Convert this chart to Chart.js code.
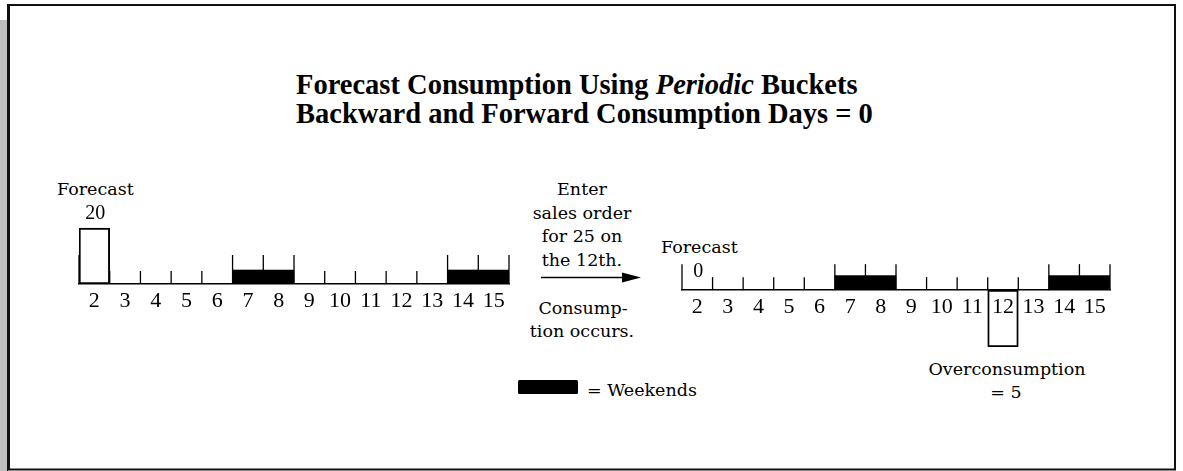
<!DOCTYPE html>
<html><head><meta charset="utf-8">
<script src="https://cdn.jsdelivr.net/npm/chart.js@4.4.1/dist/chart.umd.min.js"></script>
<style>
html,body{margin:0;padding:0;background:#fff;}
#wrap{position:relative;width:1183px;height:471px;overflow:hidden;background:#fff;}
#deco{position:absolute;left:0;top:0;}
canvas{position:absolute;}
.t{font-family:"DejaVu Serif";font-size:17.5px;fill:#000;}
.title{font-family:"Liberation Serif";font-weight:bold;font-size:28.5px;fill:#000;}
</style></head><body>
<div id="wrap">
<svg id="deco" width="1183" height="471" xmlns="http://www.w3.org/2000/svg">
  <rect x="0" y="20" width="8" height="451" fill="#bfbfbf"/>
  <rect x="9" y="5" width="1166" height="464.5" fill="#fff" stroke="#111" stroke-width="2"/>
  <line x1="7.5" y1="4" x2="7.5" y2="471" stroke="#111" stroke-width="1"/>
  <text class="title" x="296" y="94">Forecast Consumption Using <tspan font-style="italic">Periodic</tspan> Buckets</text>
  <text class="title" x="296" y="123">Backward and Forward Consumption Days = 0</text>
  <text class="t" x="57" y="195">Forecast</text>
  <text class="t" x="582" y="195" text-anchor="middle">Enter</text>
  <text class="t" x="582" y="218.5" text-anchor="middle">sales order</text>
  <text class="t" x="582" y="242" text-anchor="middle">for 25 on</text>
  <text class="t" x="582" y="266" text-anchor="middle">the 12th.</text>
  <line x1="541" y1="277.5" x2="625" y2="277.5" stroke="#000" stroke-width="1.5"/>
  <polygon points="622,272.5 641,277.5 622,282.5" fill="#000"/>
  <text class="t" x="583" y="314" text-anchor="middle">Consump-</text>
  <text class="t" x="582" y="337" text-anchor="middle">tion occurs.</text>
  <text class="t" x="661" y="253">Forecast</text>
  <text class="t" x="1007" y="375" text-anchor="middle">Overconsumption</text>
  <text class="t" x="1006" y="398" text-anchor="middle">= 5</text>
  <rect x="518" y="380" width="60" height="14" rx="1.5" fill="#000"/>
  <text class="t" x="587" y="396">= Weekends</text>
</svg>
<canvas id="leftChart" width="450" height="140" style="left:69px;top:184px"></canvas>
<canvas id="rightChart" width="448" height="107" style="left:672px;top:250px"></canvas>
</div>
<script>
// ---- data ----
const days = ['2','3','4','5','6','7','8','9','10','11','12','13','14','15'];
const weekendDays = ['7','8','14','15'];
// forecast before the sales order (periodic bucket on the 2nd)
const forecastBefore = [20, null, null, null, null, null, null, null, null, null, null, null, null, null];
// forecast after consumption
const forecastAfter = [0, null, null, null, null, null, null, null, null, null, null, null, null, null];
// overconsumption on the 12th (sales order 25 - forecast 20)
const overconsumption = [null, null, null, null, null, null, null, null, null, null, -5, null, null, null];
const WEEKEND_MARK = 1;
const weekendBand = days.map(d => weekendDays.includes(d) ? WEEKEND_MARK : null);

// ---- plugins ----
const dayTicks = {
  id: 'dayTicks',
  afterDatasetsDraw(chart, args, opts) {
    const x = chart.scales.x, y = chart.scales.y;
    const base = y.getPixelForValue(0);
    const ctx = chart.ctx;
    ctx.save();
    ctx.strokeStyle = '#000';
    ctx.lineWidth = 1.3;
    for (let b = 0; b <= days.length; b++) {
      const px = x.getPixelForValue(b - 0.5);
      const leftW = b > 0 && weekendDays.includes(days[b - 1]);
      const rightW = b < days.length && weekendDays.includes(days[b]);
      const big = b === 0 || leftW || rightW;
      const h = big ? opts.big : opts.small;
      ctx.beginPath();
      ctx.moveTo(px, base);
      ctx.lineTo(px, base - h);
      ctx.stroke();
    }
    ctx.restore();
  }
};
const valueLabels = {
  id: 'valueLabels',
  afterDatasetsDraw(chart) {
    const ctx = chart.ctx;
    ctx.save();
    ctx.fillStyle = '#000';
    ctx.font = '20px "Liberation Serif"';
    ctx.textAlign = 'center';
    ctx.textBaseline = 'alphabetic';
    chart.data.datasets.forEach((ds, i) => {
      if (!ds.valueLabel) return;
      const meta = chart.getDatasetMeta(i);
      meta.data.forEach((bar, j) => {
        const v = ds.data[j];
        if (v === null || v === undefined) return;
        ctx.fillText(String(v), bar.x + 1, Math.min(bar.y, bar.base) - ds.labelGap);
      });
    });
    ctx.restore();
  }
};

function xScale(pad) {
  return {
    type: 'category', labels: days, offset: true, position: { y: 0 },
    grid: { display: false, drawTicks: false },
    border: { display: true, color: '#000', width: 1.5 },
    ticks: { color: '#000', font: { family: 'Liberation Serif', size: 22 }, padding: pad, autoSkip: false, maxRotation: 0 }
  };
}
const common = {
  responsive: false, animation: false, devicePixelRatio: 1,
  datasets: { bar: { grouped: false, barPercentage: 1, categoryPercentage: 1 } },
  plugins: { legend: { display: false }, tooltip: { enabled: false } }
};

new Chart(document.getElementById('leftChart'), {
  type: 'bar',
  data: {
    labels: days,
    datasets: [
      { label: 'Weekends', data: weekendBand, yAxisID: 'yw', backgroundColor: '#000', borderWidth: 0 },
      { label: 'Forecast', data: forecastBefore, yAxisID: 'y', backgroundColor: 'rgba(255,255,255,0)', borderColor: '#000', borderWidth: 1.3, borderSkipped: false, valueLabel: true, labelGap: 9 }
    ]
  },
  options: Object.assign({}, common, {
    layout: { padding: { left: 10, right: 10, top: 16, bottom: 40 } },
    scales: {
      x: xScale(4.5),
      y: { display: false, min: 0, max: 30 },
      yw: { display: false, min: 0, max: 6 }
    },
    plugins: Object.assign({}, common.plugins, { dayTicks: { small: 13, big: 29 } })
  }),
  plugins: [dayTicks, valueLabels]
});

new Chart(document.getElementById('rightChart'), {
  type: 'bar',
  data: {
    labels: days,
    datasets: [
      { label: 'Weekends', data: weekendBand, yAxisID: 'yw', backgroundColor: '#000', borderWidth: 0 },
      { label: 'Forecast', data: forecastAfter, yAxisID: 'y', backgroundColor: 'rgba(0,0,0,0)', borderWidth: 0, valueLabel: true, labelGap: 13 },
      { label: 'Overconsumption', data: overconsumption, yAxisID: 'y', backgroundColor: 'rgba(255,255,255,0)', borderColor: '#000', borderWidth: 1.3, borderSkipped: false }
    ]
  },
  options: Object.assign({}, common, {
    layout: { padding: { left: 10, right: 10, top: 6, bottom: 10 } },
    scales: {
      x: xScale(4),
      y: { display: false, min: -5, max: 3 },
      yw: { display: false, min: -4.1, max: 2.4 }
    },
    plugins: Object.assign({}, common.plugins, { dayTicks: { small: 13, big: 26 } })
  }),
  plugins: [dayTicks, valueLabels]
});
</script>
</body></html>
